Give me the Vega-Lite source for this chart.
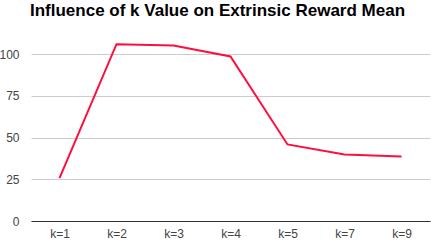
{
  "$schema": "https://vega.github.io/schema/vega-lite/v6.json",
  "width": 399,
  "height": 191,
  "autosize": {"type": "none"},
  "padding": {"left": 31, "top": 30, "right": 1, "bottom": 20},
  "background": "white",
  "title": {
    "text": "Influence of k Value on Extrinsic Reward Mean",
    "anchor": "start",
    "font": "Liberation Sans",
    "fontSize": 17,
    "fontWeight": "bold",
    "color": "#000000",
    "offset": 10,
    "dx": 31
  },
  "config": {
    "view": {"stroke": null},
    "axis": {"labelFont": "Liberation Sans", "labelFontSize": 12, "labelColor": "#444444"}
  },
  "data": {
    "values": [
      {"k": "k=1", "reward": 25.7},
      {"k": "k=2", "reward": 106.0},
      {"k": "k=3", "reward": 105.2},
      {"k": "k=4", "reward": 98.6},
      {"k": "k=5", "reward": 45.9},
      {"k": "k=7", "reward": 39.9},
      {"k": "k=9", "reward": 38.7}
    ]
  },
  "mark": {"type": "line", "color": "#ff0d40", "strokeWidth": 2},
  "encoding": {
    "x": {
      "field": "k",
      "type": "ordinal",
      "sort": null,
      "scale": {"type": "point", "padding": 0.5},
      "axis": {
        "title": null,
        "labelAngle": 0,
        "domain": true,
        "domainColor": "#333333",
        "domainWidth": 1,
        "ticks": false,
        "labelPadding": 7,
        "grid": false
      }
    },
    "y": {
      "field": "reward",
      "type": "quantitative",
      "scale": {"domain": [0, 114.5], "nice": false},
      "axis": {
        "title": null,
        "values": [0, 25, 50, 75, 100],
        "domain": false,
        "ticks": false,
        "grid": true,
        "gridColor": "#cccccc",
        "gridWidth": 1,
        "labelPadding": 12
      }
    }
  }
}
